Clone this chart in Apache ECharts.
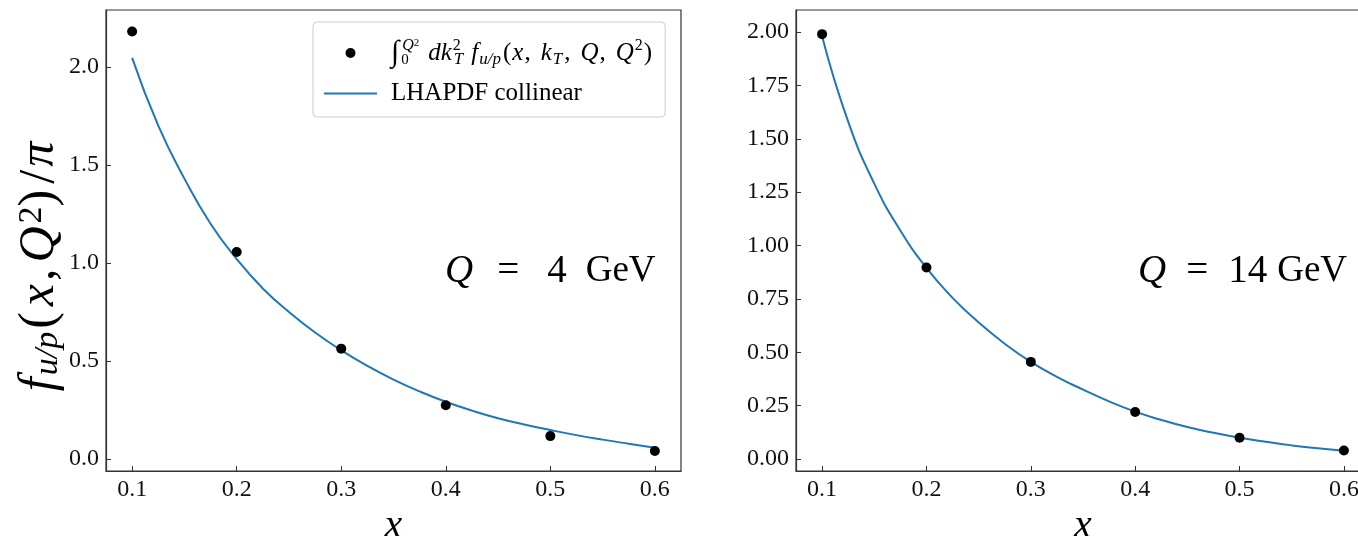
<!DOCTYPE html>
<html><head><meta charset="utf-8">
<script src="https://cdn.jsdelivr.net/npm/echarts@6/dist/echarts.min.js"></script>
<style>html,body{margin:0;padding:0;background:#fff}#c{width:1358px;height:536px}</style>
</head><body><div id="c"></div>
<script>
// ---- data ----
const xPoints = [0.1, 0.2, 0.3, 0.4, 0.5, 0.6];
const pointsQ4 = [2.18, 1.056, 0.563, 0.274, 0.117, 0.041];
const pointsQ14 = [1.99, 0.897, 0.455, 0.22, 0.10, 0.04];
const xCurve = [0.1, 0.125, 0.15, 0.175, 0.2, 0.225, 0.25, 0.275, 0.3, 0.325, 0.35, 0.375, 0.4, 0.425, 0.45, 0.475, 0.5, 0.525, 0.55, 0.575, 0.6];
const curveQ4 = [2.046, 1.70, 1.43, 1.20, 1.02, 0.87, 0.75, 0.645, 0.555, 0.475, 0.405, 0.345, 0.292, 0.247, 0.208, 0.176, 0.148, 0.122, 0.099, 0.078, 0.058];
const curveQ14 = [1.98, 1.58, 1.29, 1.07, 0.895, 0.755, 0.64, 0.54, 0.455, 0.385, 0.325, 0.27, 0.222, 0.183, 0.150, 0.123, 0.100, 0.081, 0.064, 0.050, 0.039];
const xTicks = [0.1, 0.2, 0.3, 0.4, 0.5, 0.6];
const yTicksQ4 = [0, 0.5, 1.0, 1.5, 2.0];
const yTicksQ14 = [0, 0.25, 0.5, 0.75, 1.0, 1.25, 1.5, 1.75, 2.0];
const panelQ = ['4', '14'];
const seriesNames = ['integral', 'LHAPDF collinear'];

// ---- chart ----
const FF = "'Liberation Serif', 'DejaVu Serif', serif";
const AX = '#333';
const chart = echarts.init(document.getElementById('c'), null, {renderer: 'canvas'});
const pair = (xs, ys) => xs.map((x, i) => [x, ys[i]]);

function xAxisFor(gi) {
  return {
    type: 'value', gridIndex: gi, min: 0.075, max: 0.625,
    axisLine: {show: true, onZero: false, lineStyle: {color: AX, width: 1.2}},
    axisTick: {show: true, inside: true, length: 5, customValues: xTicks, lineStyle: {color: AX, width: 1}},
    axisLabel: {customValues: xTicks, formatter: v => v.toFixed(1), fontFamily: FF, fontSize: 24, color: '#111', margin: 7},
    splitLine: {show: false},
    name: 'x', nameLocation: 'middle', nameGap: 25,
    nameTextStyle: {fontFamily: FF, fontStyle: 'italic', fontSize: 40, color: '#000'}
  };
}
function yAxisFor(gi, min, max, ticks, dec, withName) {
  const ax = {
    type: 'value', gridIndex: gi, min: min, max: max,
    axisLine: {show: true, onZero: false, lineStyle: {color: AX, width: 1.2}},
    axisTick: {show: true, inside: true, length: 5, customValues: ticks, lineStyle: {color: AX, width: 1}},
    axisLabel: {customValues: ticks, formatter: v => v.toFixed(dec), fontFamily: FF, fontSize: 24, color: '#111', margin: 7},
    splitLine: {show: false}
  };
  if (withName) {
    ax.name = '{f|f}{sb|u/p}{m|(}{i|x}{m|,}{i|Q}{sp|2}{m|)}{sl|/}{pi|π}';
    ax.nameLocation = 'middle';
    ax.nameRotate = 90;
    ax.nameGap = 36;
    ax.nameTextStyle = {
      fontFamily: FF, fontSize: 48, color: '#000',
      rich: {
        f: {fontFamily: FF, fontSize: 50, fontStyle: 'italic', color: '#000', padding: [0, 2, 0, 0]},
        i: {fontFamily: FF, fontSize: 50, fontStyle: 'italic', color: '#000', padding: [0, 3, 0, 3]},
        m: {fontFamily: FF, fontSize: 50, color: '#000', padding: [0, 3, 0, 0]},
        sl: {fontFamily: FF, fontSize: 50, color: '#000', padding: [0, 3, 0, 3]},
        pi: {fontFamily: FF, fontSize: 50, fontStyle: 'italic', color: '#000', padding: [0, 52, 0, 0]},
        sb: {fontFamily: FF, fontSize: 34, fontStyle: 'italic', color: '#000', verticalAlign: 'bottom', padding: [0, 3, 0, 0]},
        sp: {fontFamily: FF, fontSize: 34, color: '#000', verticalAlign: 'top'}
      }
    };
  }
  return ax;
}

const legendRich = {
  m: {fontFamily: FF, fontSize: 25, color: '#000'},
  c: {fontFamily: FF, fontSize: 25, color: '#000', padding: [0, 9, 0, 0]},
  i: {fontFamily: FF, fontSize: 25, fontStyle: 'italic', color: '#000', padding: [0, 1, 0, 1]},
  int: {fontFamily: FF, fontSize: 30, fontStyle: 'italic', color: '#000', padding: [0, 2, 0, 0]},
  lo: {fontFamily: FF, fontSize: 15, color: '#000', verticalAlign: 'bottom', width: 1},
  hi: {fontFamily: FF, fontSize: 16, fontStyle: 'italic', color: '#000', verticalAlign: 'top'},
  hi2: {fontFamily: FF, fontSize: 11, color: '#000', verticalAlign: 'top', padding: [0, 8, 0, 0]},
  spw: {fontFamily: FF, fontSize: 16, color: '#000', verticalAlign: 'top', width: 1},
  sp: {fontFamily: FF, fontSize: 16, color: '#000', verticalAlign: 'top', padding: [0, 1, 0, 0]},
  sb: {fontFamily: FF, fontSize: 17, fontStyle: 'italic', color: '#000', verticalAlign: 'bottom', padding: [0, 2, 0, 0]},
  sbT: {fontFamily: FF, fontSize: 17, fontStyle: 'italic', color: '#000', verticalAlign: 'bottom', padding: [0, 7, 0, 0]}
};
const legendText = {
  'integral': '{int|∫}{lo|0}{hi|Q}{hi2|2}{i|dk}{spw|2}{sbT|T}{i|f}{sb|u/p}{m|(}{i|x}{c|,}{i|k}{sb|T}{c|,}{i|Q}{c|,}{i|Q}{sp|2}{m|)}',
  'LHAPDF collinear': '{m|LHAPDF collinear}'
};

const series = [];
[[pointsQ4, curveQ4], [pointsQ14, curveQ14]].forEach((d, gi) => {
  series.push({
    name: seriesNames[1], type: 'line', xAxisIndex: gi, yAxisIndex: gi,
    data: pair(xCurve, d[1]), smooth: true, symbol: 'none', showSymbol: false,
    lineStyle: {color: '#1f77b4', width: 2}, itemStyle: {color: '#1f77b4'}, z: 2
  });
  series.push({
    name: seriesNames[0], type: 'scatter', xAxisIndex: gi, yAxisIndex: gi,
    data: pair(xPoints, d[0]), symbol: 'circle', symbolSize: 10,
    itemStyle: {color: '#000', opacity: 1}, z: 3
  });
});

const annot = (left, q, gaps) => ({
  type: 'text', left: left, top: 252, z: 10,
  style: {
    text: '{q|Q}{e|=}{n|' + q + '}{g|GeV}',
    rich: {
      q: {fontFamily: FF, fontSize: 39, fontStyle: 'italic', fill: '#000'},
      e: {fontFamily: FF, fontSize: 39, fill: '#000', padding: [0, 0, 0, gaps[0]]},
      n: {fontFamily: FF, fontSize: 39, fill: '#000', padding: [0, 0, 0, gaps[1]]},
      g: {fontFamily: FF, fontSize: 37, fill: '#000', padding: [0, 0, 0, gaps[2]]}
    }
  }
});

chart.setOption({
  animation: false,
  backgroundColor: '#fff',
  grid: [
    {left: 106, top: 10, width: 575, height: 461, show: true, borderColor: AX, borderWidth: 1.2, backgroundColor: 'transparent', outerBoundsMode: 'none', containLabel: false},
    {left: 796, top: 10, width: 574, height: 461, show: true, borderColor: AX, borderWidth: 1.2, backgroundColor: 'transparent', outerBoundsMode: 'none', containLabel: false}
  ],
  xAxis: [xAxisFor(0), xAxisFor(1)],
  yAxis: [
    yAxisFor(0, -0.061, 2.29, yTicksQ4, 1, true),
    yAxisFor(1, -0.056, 2.103, yTicksQ14, 2, false)
  ],
  legend: {
    left: 313, top: 22, orient: 'vertical',
    data: [
      {name: seriesNames[0], icon: 'circle', itemStyle: {color: '#000', opacity: 1}},
      {name: seriesNames[1], itemStyle: {color: 'transparent', borderWidth: 0, opacity: 0}, lineStyle: {color: '#1f77b4', width: 2, opacity: 1}}
    ],
    itemWidth: 53, itemHeight: 10, itemGap: 13,
    padding: [16, 13, 11, 10],
    backgroundColor: 'rgba(255,255,255,0.8)', borderColor: '#ccc', borderWidth: 1, borderRadius: 4,
    formatter: n => legendText[n],
    textStyle: {fontFamily: FF, fontSize: 25, color: '#000', padding: [0, 0, 0, 9], rich: legendRich},
    selectedMode: false
  },
  graphic: [annot(445, panelQ[0], [24, 28, 19]), annot(1138, panelQ[1], [20, 20, 10])],
  series: series
});
</script>
</body></html>
